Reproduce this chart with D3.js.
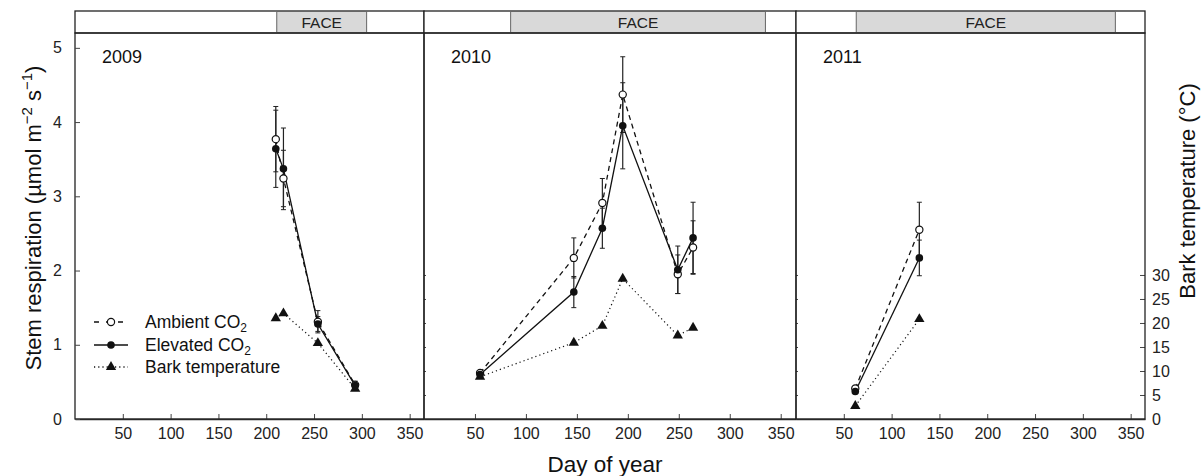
<!DOCTYPE html>
<html>
<head>
<meta charset="utf-8">
<script src="https://cdn.jsdelivr.net/npm/d3@7"></script>
<style>
  body { margin: 0; background: #fff; }
  svg { display: block; font-family: "Liberation Sans", Arial, sans-serif; }
</style>
</head>
<body>
<div id="chart"></div>
<script>
// values
var years = ["2009", "2010", "2011"];

var days2009 = [210, 218, 254, 293];
var ambient2009 = [3.77, 3.24, 1.31, 0.46];
var ambientErr2009 = [0.44, 0.38, 0.15, 0.05];
var elevated2009 = [3.64, 3.37, 1.28, 0.45];
var elevatedErr2009 = [0.52, 0.55, 0.10, 0.05];
var bark2009 = [21.0, 22.0, 15.8, 6.3];

var days2010 = [55, 147, 175, 195, 249, 264];
var ambient2010 = [0.62, 2.17, 2.91, 4.37, 1.95, 2.31];
var ambientErr2010 = [0.03, 0.27, 0.33, 0.51, 0.26, 0.36];
var elevated2010 = [0.60, 1.71, 2.57, 3.95, 2.01, 2.44];
var elevatedErr2010 = [0.03, 0.21, 0.27, 0.58, 0.32, 0.48];
var bark2010 = [8.8, 15.9, 19.4, 29.2, 17.4, 19.0];

var days2011 = [62, 129];
var ambient2011 = [0.41, 2.55];
var ambientErr2011 = [0.03, 0.37];
var elevated2011 = [0.37, 2.17];
var elevatedErr2011 = [0.03, 0.24];
var bark2011 = [2.7, 20.8];

var faceStart = [211, 85, 63];
var faceEnd = [305, 335, 334];

var xTicks = [50, 100, 150, 200, 250, 300, 350];
var respTicks = [0, 1, 2, 3, 4, 5];
var tempTicks = [0, 5, 10, 15, 20, 25, 30];

var legendLabels = ["Ambient CO", "Elevated CO", "Bark temperature"];

var panels = [
    {days: days2009, amb: ambient2009, ambErr: ambientErr2009, ele: elevated2009, eleErr: elevatedErr2009, bark: bark2009},
    {days: days2010, amb: ambient2010, ambErr: ambientErr2010, ele: elevated2010, eleErr: elevatedErr2010, bark: bark2010},
    {days: days2011, amb: ambient2011, ambErr: ambientErr2011, ele: elevated2011, eleErr: elevatedErr2011, bark: bark2011}
];

var width = 1202, height = 476;
var panelLeft = [75, 424, 796];
var panelRight = [424, 796, 1145];
var plotTop = 33, stripTop = 11, plotBottom = 419;
var font = "Liberation Sans, Arial, sans-serif";

var svg = d3.select("#chart").append("svg")
    .attr("width", width)
    .attr("height", height);

var y = d3.scaleLinear().domain([0, 5.2]).range([plotBottom, plotTop]);
var yT = d3.scaleLinear().domain([0, 80.4]).range([plotBottom, plotTop]);

var tri = d3.symbol().type(d3.symbolTriangle).size(46);

panels.forEach(function(p, k) {
    var x = d3.scaleLinear().domain([0, 365]).range([panelLeft[k], panelRight[k]]);
    var g = svg.append("g");

    // FACE strip
    g.append("rect")
        .attr("x", panelLeft[k]).attr("y", stripTop)
        .attr("width", panelRight[k] - panelLeft[k]).attr("height", plotTop - stripTop)
        .attr("fill", "#fff").attr("stroke", "#222").attr("stroke-width", 1.3);
    g.append("rect")
        .attr("x", x(faceStart[k])).attr("y", stripTop + 0.5)
        .attr("width", x(faceEnd[k]) - x(faceStart[k])).attr("height", plotTop - stripTop - 1)
        .attr("fill", "#d9d9d9").attr("stroke", "#666").attr("stroke-width", 1);
    g.append("text")
        .attr("x", (x(faceStart[k]) + x(faceEnd[k])) / 2).attr("y", 28)
        .attr("text-anchor", "middle").attr("font-size", 15.5).attr("fill", "#222")
        .text("FACE");

    // x axis (ticks inward)
    var xa = g.append("g").attr("transform", "translate(0," + plotBottom + ")")
        .call(d3.axisBottom(x).tickValues(xTicks).tickSizeInner(-5).tickSizeOuter(0).tickPadding(9));
    xa.select(".domain").attr("stroke", "#333").attr("stroke-width", 1.3);
    xa.selectAll(".tick line").attr("stroke", "#444");
    xa.selectAll("text").attr("font-size", 16).attr("fill", "#222").attr("font-family", font);

    // temperature ticks on right edge
    var ta = g.append("g").attr("transform", "translate(" + panelRight[k] + ",0)")
        .call(d3.axisRight(yT).tickValues(k === 2 ? tempTicks : tempTicks.slice(1)).tickSizeInner(k === 2 ? -5 : 2).tickSizeOuter(0).tickPadding(7));
    ta.select(".domain").remove();
    ta.selectAll(".tick line").attr("stroke", "#444");
    ta.selectAll("text").attr("font-size", 16).attr("fill", "#222").attr("font-family", font);
    if (k !== 2) ta.selectAll("text").remove();

    // frame
    g.append("rect")
        .attr("x", panelLeft[k]).attr("y", plotTop)
        .attr("width", panelRight[k] - panelLeft[k]).attr("height", plotBottom - plotTop)
        .attr("fill", "none").attr("stroke", "#222").attr("stroke-width", 1.3);

    g.append("text")
        .attr("x", panelLeft[k] + 27).attr("y", 63)
        .attr("font-size", 18).attr("fill", "#111")
        .text(years[k]);

    var idx = d3.range(p.days.length);

    // error bars
    [[p.amb, p.ambErr], [p.ele, p.eleErr]].forEach(function(s) {
        idx.forEach(function(i) {
            var cx = x(p.days[i]);
            var hi = y(s[0][i] + s[1][i]), lo = y(s[0][i] - s[1][i]);
            g.append("line").attr("x1", cx).attr("x2", cx).attr("y1", hi).attr("y2", lo)
                .attr("stroke", "#222").attr("stroke-width", 1.2);
            [hi, lo].forEach(function(v) {
                g.append("line").attr("x1", cx - 2.5).attr("x2", cx + 2.5).attr("y1", v).attr("y2", v)
                    .attr("stroke", "#222").attr("stroke-width", 1);
            });
        });
    });

    // lines
    var lineR = d3.line().x(function(i) { return x(p.days[i]); });
    g.append("path").datum(idx)
        .attr("d", lineR.y(function(i) { return yT(p.bark[i]); }))
        .attr("fill", "none").attr("stroke", "#111").attr("stroke-width", 1.2)
        .attr("stroke-dasharray", "1.2,3");
    g.append("path").datum(idx)
        .attr("d", lineR.y(function(i) { return y(p.amb[i]); }))
        .attr("fill", "none").attr("stroke", "#111").attr("stroke-width", 1.3)
        .attr("stroke-dasharray", "5,4");
    g.append("path").datum(idx)
        .attr("d", lineR.y(function(i) { return y(p.ele[i]); }))
        .attr("fill", "none").attr("stroke", "#111").attr("stroke-width", 1.3);

    // markers
    g.selectAll(".tri").data(idx).join("path")
        .attr("transform", function(i) { return "translate(" + x(p.days[i]) + "," + yT(p.bark[i]) + ")"; })
        .attr("d", tri).attr("fill", "#111");
    g.selectAll(".amb").data(idx).join("circle")
        .attr("cx", function(i) { return x(p.days[i]); })
        .attr("cy", function(i) { return y(p.amb[i]); })
        .attr("r", 3.6).attr("fill", "#fff").attr("stroke", "#111").attr("stroke-width", 1.2);
    g.selectAll(".ele").data(idx).join("circle")
        .attr("cx", function(i) { return x(p.days[i]); })
        .attr("cy", function(i) { return y(p.ele[i]); })
        .attr("r", 3.8).attr("fill", "#111");
});

// left axis on first panel (ticks inward)
var ya = svg.append("g").attr("transform", "translate(" + panelLeft[0] + ",0)")
    .call(d3.axisLeft(y).tickValues(respTicks).tickFormat(d3.format("d")).tickSizeInner(-5).tickSizeOuter(0).tickPadding(13));
ya.select(".domain").remove();
ya.selectAll(".tick line").attr("stroke", "#444");
ya.selectAll("text").attr("font-size", 16).attr("fill", "#222").attr("font-family", font);

// axis titles
var yl = svg.append("text")
    .attr("transform", "translate(41,218) rotate(-90)")
    .attr("text-anchor", "middle").attr("font-size", 22).attr("fill", "#111");
yl.append("tspan").text("Stem respiration (\u00b5mol m");
yl.append("tspan").attr("dy", -9).attr("font-size", 15).text("\u22122");
yl.append("tspan").attr("dy", 9).text(" s");
yl.append("tspan").attr("dy", -9).attr("font-size", 15).text("\u22121");
yl.append("tspan").attr("dy", 9).text(")");

svg.append("text")
    .attr("transform", "translate(1195,191) rotate(-90)")
    .attr("text-anchor", "middle").attr("font-size", 22).attr("fill", "#111")
    .text("Bark temperature (\u00b0C)");

svg.append("text")
    .attr("x", 605).attr("y", 472)
    .attr("text-anchor", "middle").attr("font-size", 22.5).attr("fill", "#111")
    .text("Day of year");

// legend
var legY = [322, 345, 367];
var leg = svg.append("g");
legendLabels.forEach(function(lab, i) {
    var ln = leg.append("line").attr("x1", 94).attr("x2", 128).attr("y1", legY[i]).attr("y2", legY[i])
        .attr("stroke", "#111").attr("stroke-width", 1.3);
    if (i === 0) ln.attr("stroke-dasharray", "5,7");
    if (i === 2) ln.attr("stroke-dasharray", "1.2,3");
    if (i === 0) leg.append("circle").attr("cx", 111).attr("cy", legY[i]).attr("r", 3.6)
        .attr("fill", "#fff").attr("stroke", "#111").attr("stroke-width", 1.2);
    if (i === 1) leg.append("circle").attr("cx", 111).attr("cy", legY[i]).attr("r", 3.8).attr("fill", "#111");
    if (i === 2) leg.append("path").attr("transform", "translate(111," + legY[i] + ")").attr("d", tri).attr("fill", "#111");
    var t = leg.append("text").attr("x", 145).attr("y", legY[i] + 6).attr("font-size", 17.5).attr("fill", "#111");
    t.append("tspan").text(lab);
    if (i < 2) t.append("tspan").attr("dy", 4).attr("font-size", 12).text("2");
});
</script>
</body>
</html>
